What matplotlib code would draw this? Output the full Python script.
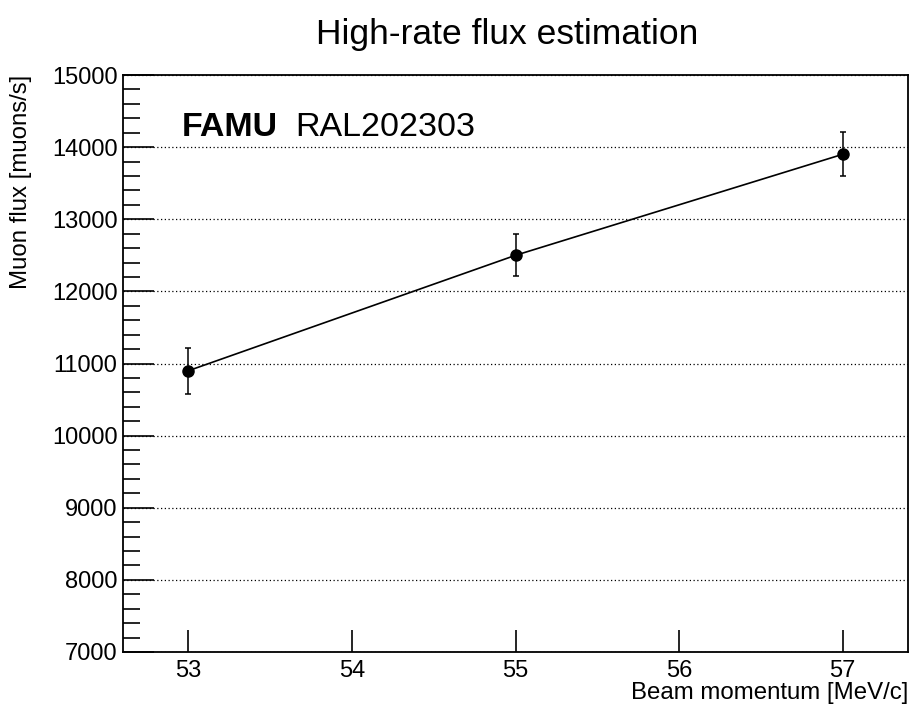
import numpy as np
import matplotlib.pyplot as plt
from matplotlib.ticker import MultipleLocator

plt.rcParams['font.family'] = ['Liberation Sans', 'DejaVu Sans']

# data
momentum = [53, 55, 57]
flux = [10900, 12500, 13900]
flux_err = [320, 290, 305]

W, H = 912, 704
fig = plt.figure(figsize=(W/100, H/100), dpi=100)
ax = fig.add_axes([123/W, 1-652/H, (908-123)/W, (652-75)/H])

ax.plot(momentum, flux, color='black', linewidth=1.2, zorder=3)
ax.errorbar(momentum, flux, yerr=flux_err, fmt='o', color='black', markersize=8,
            elinewidth=1.1, capsize=2.5, capthick=1.1, zorder=4)

ax.set_xlim(52.6, 57.4)
ax.set_ylim(7000, 15000)
ax.xaxis.set_major_locator(MultipleLocator(1))
ax.yaxis.set_major_locator(MultipleLocator(1000))
ax.yaxis.set_minor_locator(MultipleLocator(200))
ax.grid(axis='y', which='major', linestyle=(0, (1, 2)), color='black', linewidth=0.9)
ax.tick_params(axis='both', which='both', direction='in', labelsize=17,
               top=False, right=False, width=1.2)
ax.tick_params(axis='y', which='major', length=22, pad=4)
ax.tick_params(axis='y', which='minor', length=12)
ax.tick_params(axis='x', which='major', length=16, pad=6)
for s in ax.spines.values():
    s.set_linewidth(1.3)

# axis titles placed ROOT-style (right / top aligned)
fig.text(908/W, 1-699/H, 'Beam momentum [MeV/c]', fontsize=17.3,
         ha='right', va='baseline')
fig.text(21/W, 1-75/H, 'Muon flux [muons/s]', fontsize=17.3,
         rotation=90, ha='center', va='top')
fig.text(507/W, 1-44/H, 'High-rate flux estimation', fontsize=25.5,
         ha='center', va='baseline')

fig.text(182/W, 1-136/H, 'FAMU', fontsize=24.5, fontweight='bold',
         ha='left', va='baseline')
fig.text(295/W, 1-136/H, 'RAL202303', fontsize=24.5,
         ha='left', va='baseline')

fig.savefig('out.png', dpi=100)
